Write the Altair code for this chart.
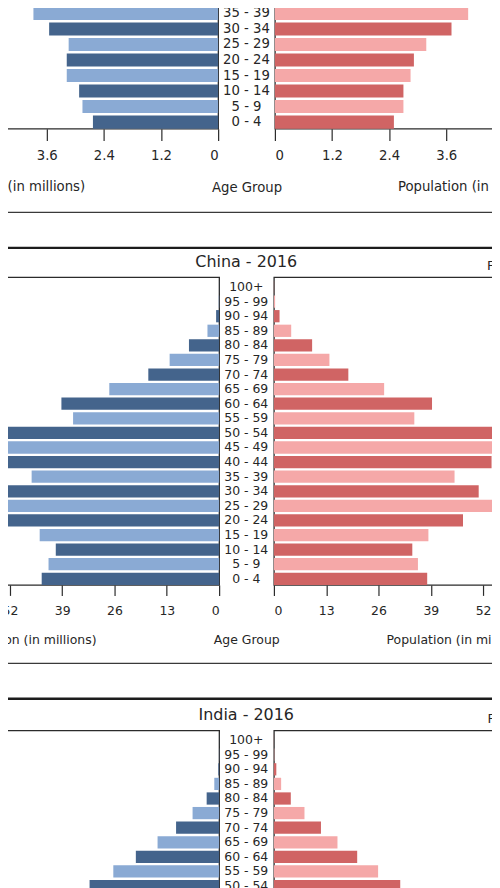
import altair as alt
import pandas as pd

# ---------------- data ----------------
AGE_GROUPS = ["100+", "95 - 99", "90 - 94", "85 - 89", "80 - 84", "75 - 79", "70 - 74",
              "65 - 69", "60 - 64", "55 - 59", "50 - 54", "45 - 49", "40 - 44", "35 - 39",
              "30 - 34", "25 - 29", "20 - 24", "15 - 19", "10 - 14", "5 - 9", "0 - 4"]

# Japan 2016 (only the visible lower part of the pyramid)
japan_ages = ["40 - 44", "35 - 39", "30 - 34", "25 - 29", "20 - 24",
              "15 - 19", "10 - 14", "5 - 9", "0 - 4"]
japan_male = [4.90, 3.88, 3.55, 3.14, 3.18, 3.18, 2.92, 2.85, 2.63]
japan_female = [4.80, 4.06, 3.71, 3.18, 2.92, 2.85, 2.70, 2.70, 2.50]
japan_ticks = [0, 1.2, 2.4, 3.6, 4.8]

# China 2016
china_ages = AGE_GROUPS
china_male = [0.02, 0.1, 0.75, 2.9, 7.5, 12.3, 17.6, 27.3, 39.2, 36.3, 57.5,
              63.5, 56.5, 46.6, 53.2, 61.5, 52.5, 44.6, 40.6, 42.4, 44.1]
china_female = [0.05, 0.3, 1.4, 4.3, 9.5, 13.8, 18.5, 27.4, 39.3, 34.9, 54.8,
                60.5, 54.1, 44.9, 50.9, 58.5, 47.0, 38.4, 34.4, 35.8, 38.1]
china_ticks = [0, 13, 26, 39, 52]

# India 2016 (only the visible upper part of the pyramid)
india_ages = ["100+", "95 - 99", "90 - 94", "85 - 89", "80 - 84", "75 - 79",
              "70 - 74", "65 - 69", "60 - 64", "55 - 59", "50 - 54"]
india_male = [0.02, 0.05, 0.2, 1.2, 3.1, 6.6, 10.7, 15.3, 20.7, 26.3, 32.2]
india_female = [0.03, 0.1, 0.6, 1.8, 4.2, 7.6, 11.7, 15.8, 20.7, 25.9, 31.4]

# ---------------- style ----------------
MALE_DARK, MALE_LIGHT = "#44648c", "#8aaad4"
FEMALE_DARK, FEMALE_LIGHT = "#d06464", "#f5a8a8"
TXT = "#262626"
FRAME = "#2b2b2b"
PI, PO = 0.16, 0.126


def shade_of(age):
    pos = len(AGE_GROUPS) - 1 - AGE_GROUPS.index(age)
    return "dark" if pos % 2 == 0 else "light"


def make_panel(name, ages, male, female, ticks, ppm, step, w_left, w_mid, w_right,
               fs, title_fs, fem_fs, tick_size, lab_pad, title_pad, mid_pad,
               title_offset, title_dy, fem_dx, left_tx, right_tx, show_axis=True):
    df = pd.DataFrame({"age": ages, "male": male, "female": female})
    df["shade"] = [shade_of(a) for a in ages]
    n = len(ages)
    height = step * (n - PI + 2 * PO)
    yscale = alt.Scale(type="band", domain=ages, paddingInner=PI, paddingOuter=PO, align=1)

    def xaxis(tx):
        if not show_axis:
            return None
        return alt.Axis(values=ticks, format=".3~g", tickSize=tick_size, labelPadding=lab_pad,
                        labelFontSize=fs, titleFontSize=fs, titlePadding=title_pad,
                        titleX=tx, titleAlign="center",
                        title="Population (in millions)", domain=False, grid=False)

    left = alt.Chart(df).mark_bar().encode(
        x=alt.X("male:Q", scale=alt.Scale(domain=[0, w_left / ppm], reverse=True, nice=False, zero=False),
                axis=xaxis(left_tx)),
        y=alt.Y("age:N", scale=yscale, axis=None),
        color=alt.Color("shade:N", scale=alt.Scale(domain=["dark", "light"], range=[MALE_DARK, MALE_LIGHT]),
                        legend=None),
    ).properties(width=w_left, height=height)

    right = alt.Chart(df).mark_bar().encode(
        x=alt.X("female:Q", scale=alt.Scale(domain=[0, w_right / ppm], nice=False, zero=False),
                axis=xaxis(right_tx)),
        y=alt.Y("age:N", scale=yscale, axis=None),
        color=alt.Color("shade:N", scale=alt.Scale(domain=["dark", "light"], range=[FEMALE_DARK, FEMALE_LIGHT]),
                        legend=None),
    ).properties(
        width=w_right, height=height,
        title=alt.TitleParams("Females", anchor="start", dx=fem_dx, dy=title_dy, baseline="alphabetic",
                              offset=title_offset, fontSize=fem_fs, fontWeight="normal", color=TXT),
    )

    mid_enc = dict(
        y=alt.Y("age:N", scale=yscale, axis=None),
        text=alt.Text("age:N"),
    )
    mid = alt.Chart(df).mark_text(fontSize=fs, color=TXT, baseline="middle", align="center")
    if show_axis:
        mid = mid.transform_calculate(c="'c'")
        mid_enc["x"] = alt.X("c:N", scale=alt.Scale(type="point"),
                             axis=alt.Axis(title="Age Group", labels=False, ticks=False, domain=False,
                                           titlePadding=mid_pad, titleFontSize=fs))
    mid = mid.encode(**mid_enc).properties(
        width=w_mid, height=height,
        view=alt.ViewBackground(strokeOpacity=0),
        title=alt.TitleParams(f"{name} - 2016", anchor="middle", baseline="alphabetic", dy=title_dy,
                              offset=title_offset, fontSize=title_fs, fontWeight="normal", color=TXT),
    )
    return alt.hconcat(left, mid, right, spacing=0, bounds="flush").resolve_scale(color="independent")


def separator(width, height, y_thin, y_thick):
    base = alt.Chart(pd.DataFrame({"k": [0]}))
    thin = base.mark_rule(color="#3a3a3a", strokeWidth=1.3).encode(
        x=alt.value(0), x2=alt.value("width"), y=alt.value(y_thin))
    thick = base.mark_rule(color="#1c1c1c", strokeWidth=2.4).encode(
        x=alt.value(0), x2=alt.value("width"), y=alt.value(y_thick))
    return alt.layer(thin, thick).properties(width=width, height=height,
                                             view=alt.ViewBackground(strokeOpacity=0))


japan = make_panel("Japan", japan_ages, japan_male, japan_female, japan_ticks, 47.8, 15.6,
                   379, 57, 405, 13.3, 17, 13.6, 12, 7.5, 18.4, 51.9, 9.6, 13.5, 228,
                   169, 199)
china = make_panel("China", china_ages, china_male, china_female, china_ticks, 4.04, 14.65,
                   380, 54.5, 380, 12.5, 16, 12.8, 10.5, 9.2, 16.7, 49.2, 9, 14.5, 214.5,
                   185, 184)
india = make_panel("India", india_ages, india_male, india_female, china_ticks, 4.04, 14.65,
                   380, 54.5, 380, 12.5, 16, 12.8, 10.5, 9.2, 16.7, 49.2, 9, 14.5, 214.5,
                   185, 184, show_axis=False)

sep1 = separator(841, 58.7, 18, 53.5)
sep2 = separator(841, 59, 15.8, 51.3)

chart = alt.vconcat(japan, sep1, china, sep2, india, spacing=0).properties(
    padding={"left": -170, "top": -50.5, "right": -189, "bottom": -6}
).configure(font="DejaVu Sans").configure_view(
    stroke=FRAME, strokeWidth=1.3
).configure_axis(
    labelColor=TXT, titleColor=TXT, tickColor=FRAME, tickWidth=1.2,
    titleFontWeight="normal", grid=False
).configure_title(color=TXT, fontWeight="normal")

chart.save("out.html", embed_options={"renderer": "svg", "actions": False})
